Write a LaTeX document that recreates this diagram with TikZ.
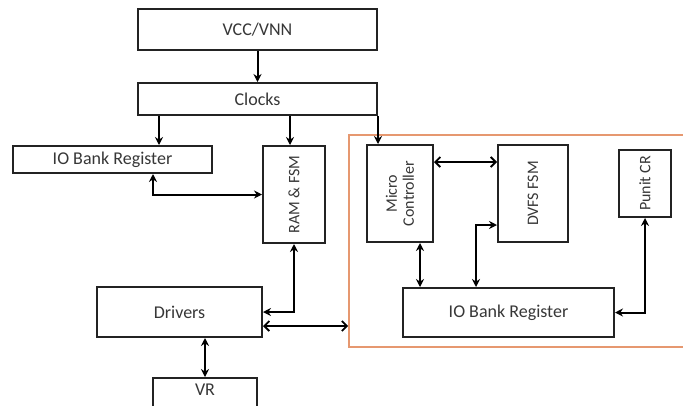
\documentclass[tikz,border=0pt]{standalone}
\usepackage{fontspec}
\setmainfont{Carlito}
\usetikzlibrary{arrows.meta,calc}
\definecolor{inkgray}{RGB}{35,35,35}
\definecolor{textgray}{RGB}{55,55,55}
\definecolor{socorange}{RGB}{230,152,112}
\tikzset{
  blk/.style={draw=inkgray, line width=2pt, inner sep=0pt, text=textgray,
    font=\fontsize{18}{20}\selectfont},
  vtext/.style={rotate=90, text=textgray, font=\fontsize{16}{17}\selectfont, align=center, inner sep=0pt},
  link/.style={draw=black, line width=2pt, -{Stealth[length=8pt,width=8pt]}},
  dlink/.style={draw=black, line width=2pt, {Stealth[length=8pt,width=8pt]}-{Stealth[length=8pt,width=8pt]}},
  olink/.style={draw=black, line width=2pt, {Straight Barb[length=5pt,width=10pt,line width=1.8pt]}-{Straight Barb[length=5pt,width=10pt,line width=1.8pt]}},
}
\begin{document}
\begin{tikzpicture}[x=1pt, y=-1pt]
\useasboundingbox (0,0) rectangle (683,405);
\clip (0,0) rectangle (683,405);
\fill[white] (0,0) rectangle (683,405);

% processor subsystem frame
\node[draw=socorange, line width=1.8pt, minimum width=345pt, minimum height=212pt, inner sep=0pt]
  (soc) at (521.5,241) {};

% left column
\node[blk, minimum width=239pt, minimum height=41pt] (vcc) at (257.5,29.5) {VCC/VNN};
\node[blk, minimum width=239pt, minimum height=32pt] (clk) at (257.5,99) {Clocks};
\node[blk, minimum width=199pt, minimum height=27pt] (iobl) at (112.5,159.5) {IO Bank Register};
\node[blk, minimum width=62pt, minimum height=97pt] (ram) at (294,194.5) {};
\node[vtext] at (ram.center) {RAM \& FSM};
\node[blk, minimum width=165pt, minimum height=50pt] (drv) at (179.5,312) {Drivers};
\node[blk, minimum width=104pt, minimum height=40pt] (vr) at (205,398) {};
\node[text=textgray, font=\fontsize{18}{20}\selectfont, inner sep=0pt] at (205,390) {VR};

% blocks inside the frame
\node[blk, minimum width=66pt, minimum height=97pt] (mc) at (400,193.5) {};
\node[vtext] at (mc.center) {Micro\\Controller};
\node[blk, minimum width=70pt, minimum height=97pt] (dvfs) at (533,193.5) {};
\node[vtext] at (dvfs.center) {DVFS FSM};
\node[blk, minimum width=52pt, minimum height=67pt] (punit) at (645,183.5) {};
\node[vtext] at (punit.center) {Punit CR};
\node[blk, minimum width=211pt, minimum height=49pt] (iobr) at (508.5,312.5) {IO Bank Register};

% connectors
\draw[link] (vcc.south) -- (clk.north);
\draw[link] (clk.south -| 159,0) -- (iobl.north -| 159,0);
\draw[link] (clk.south -| 290,0) -- (ram.north -| 290,0);
\draw[link] (clk.south east) -- (mc.north -| clk.south east);
\draw[dlink] (iobl.south -| 153,0) |- (ram.west);
\draw[dlink] (ram.south) |- (drv.east);
\draw[olink] ([yshift=-14pt]drv.east) -- (soc.west |- 0,326);
\draw[dlink] (drv.south -| vr.north) -- (vr.north);
\draw[olink] (mc.east |- 0,162) -- (dvfs.west |- 0,162);
\draw[dlink] (dvfs.west |- 0,225) -| (iobr.north -| 476,0);
\draw[dlink] (mc.south -| 420,0) -- (iobr.north -| 420,0);
\draw[dlink] (punit.south) |- (iobr.east);
\end{tikzpicture}
\end{document}
